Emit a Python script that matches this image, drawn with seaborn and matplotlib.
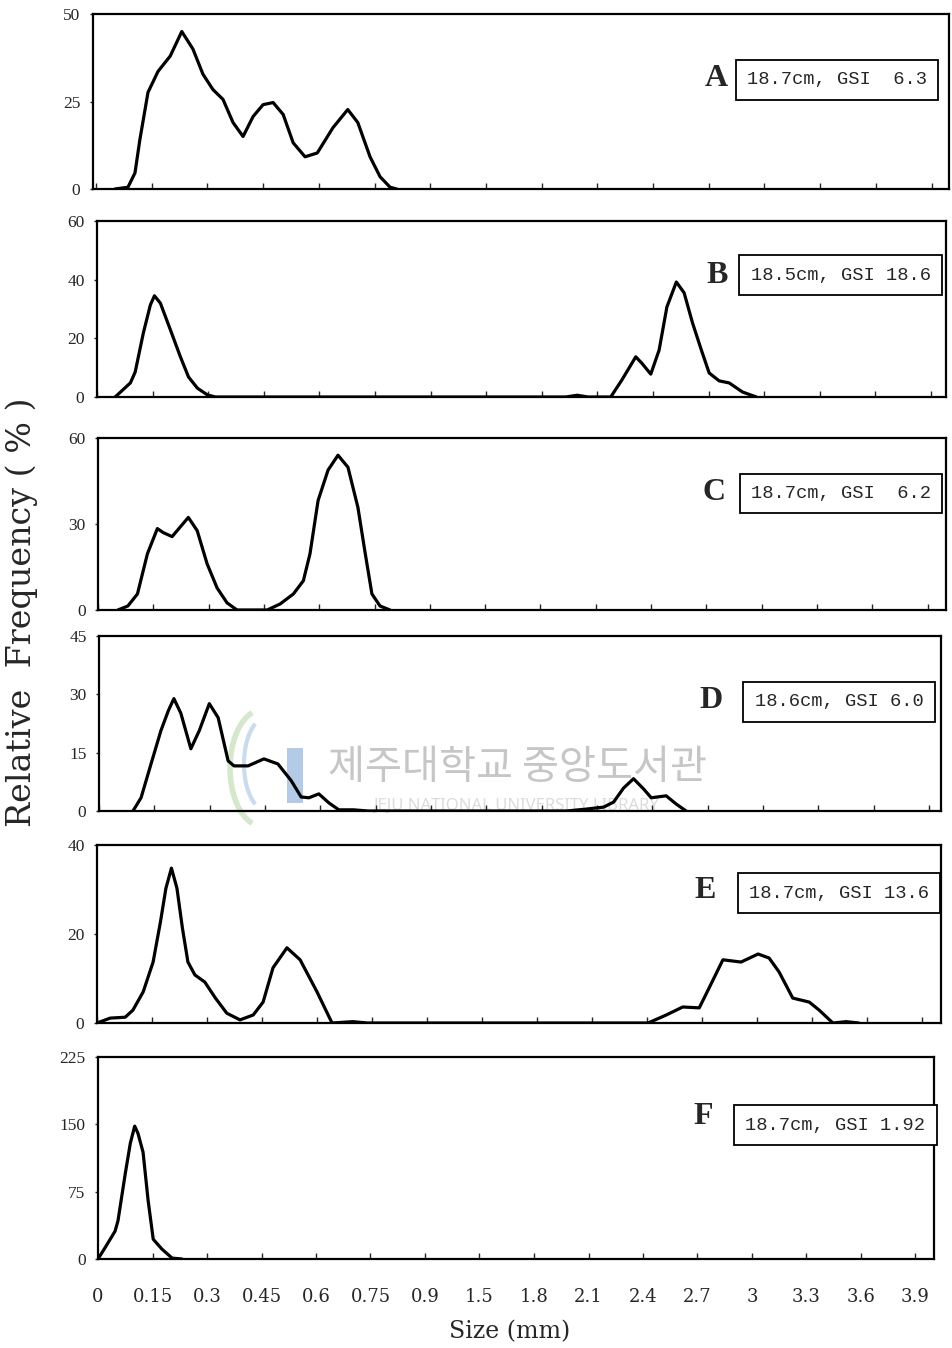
import numpy as np
import pandas as pd
import seaborn as sns
import matplotlib.pyplot as plt
from matplotlib.patches import Rectangle, Arc
from matplotlib.transforms import IdentityTransform

# x axis: size classes (mm), unequal steps drawn at equal spacing
tick_sizes = [0, 0.15, 0.3, 0.45, 0.6, 0.75, 0.9, 1.5, 1.8, 2.1, 2.4, 2.7, 3.0, 3.3, 3.6, 3.9]
tick_labels = ['0', '0.15', '0.3', '0.45', '0.6', '0.75', '0.9', '1.5', '1.8',
               '2.1', '2.4', '2.7', '3', '3.3', '3.6', '3.9']

panel_names = ['A', 'B', 'C', 'D', 'E', 'F']
panel_notes = ['18.7cm, GSI  6.3', '18.5cm, GSI 18.6', '18.7cm, GSI  6.2',
               '18.6cm, GSI 6.0', '18.7cm, GSI 13.6', '18.7cm, GSI 1.92']
y_ticks = [[0, 25, 50], [0, 20, 40, 60], [0, 30, 60], [0, 15, 30, 45], [0, 20, 40], [0, 75, 150, 225]]

# relative frequency (%)
A_size = [0.051, 0.086, 0.105, 0.118, 0.140, 0.167, 0.200, 0.231, 0.261, 0.288, 0.315, 0.342, 0.369,
          0.396, 0.423, 0.450, 0.477, 0.504, 0.531, 0.563, 0.596, 0.638, 0.678, 0.705, 0.738,
          0.765, 0.792, 0.810]
A_freq = [0, 0.5, 4.6, 14.0, 27.6, 33.6, 38.0, 45.0, 40.0, 32.8, 28.4, 25.6, 19.0,
          15.0, 20.7, 24.1, 24.7, 21.3, 13.2, 9.2, 10.3, 17.5, 22.7, 19.0, 9.2,
          3.5, 0.5, 0]

B_size = [0.049, 0.090, 0.103, 0.125, 0.144, 0.155, 0.171, 0.198, 0.225, 0.247, 0.271, 0.298, 0.320,
          1.930, 1.990, 2.050, 2.172, 2.232, 2.307, 2.340, 2.388, 2.433, 2.475, 2.526, 2.568,
          2.613, 2.661, 2.703, 2.757, 2.811, 2.883, 2.958]
B_freq = [0, 4.8, 8.5, 21.8, 31.4, 34.5, 32.0, 22.9, 13.7, 6.8, 3.0, 0.7, 0,
          0, 0.6, 0, 0, 5.8, 13.7, 11.5, 7.8, 16.0, 30.7, 39.2, 35.5,
          25.3, 16.0, 8.2, 5.5, 4.8, 1.7, 0]

C_size = [0.054, 0.081, 0.107, 0.134, 0.161, 0.177, 0.201, 0.222, 0.245, 0.269, 0.296, 0.323, 0.350,
          0.377, 0.459, 0.494, 0.530, 0.557, 0.575, 0.597, 0.624, 0.651, 0.678, 0.705, 0.725,
          0.743, 0.765, 0.792]
C_freq = [0, 1.4, 5.6, 19.6, 28.4, 27.0, 25.6, 28.8, 32.3, 27.7, 16.1, 7.7, 2.5,
          0, 0, 2.1, 5.6, 10.2, 19.6, 38.2, 48.8, 54.0, 49.8, 35.8, 19.6,
          5.6, 1.4, 0]

D_size = [0.092, 0.114, 0.141, 0.168, 0.188, 0.203, 0.222, 0.249, 0.272, 0.299, 0.323, 0.350,
          0.366, 0.404, 0.447, 0.485, 0.521, 0.548, 0.569, 0.596, 0.623, 0.650, 0.690, 0.729,
          1.935, 2.043, 2.136, 2.190, 2.244, 2.298, 2.352, 2.394, 2.475, 2.529, 2.583]
D_freq = [0, 3.4, 12.1, 20.7, 25.8, 28.9, 25.1, 16.0, 20.7, 27.6, 24.0, 12.9,
          11.6, 11.6, 13.4, 12.1, 7.8, 3.6, 3.4, 4.4, 2.1, 0.3, 0.3, 0,
          0, 0.5, 1.0, 2.3, 5.9, 8.3, 5.7, 3.4, 3.9, 1.8, 0]

E_size = [0, 0.036, 0.077, 0.098, 0.126, 0.153, 0.173, 0.188, 0.203, 0.218, 0.233, 0.248, 0.267,
          0.294, 0.323, 0.354, 0.390, 0.426, 0.453, 0.480, 0.518, 0.554, 0.600, 0.641, 0.698,
          0.737, 2.406, 2.505, 2.595, 2.685, 2.739, 2.814, 2.913, 3.006, 3.066, 3.120, 3.195,
          3.285, 3.339, 3.414, 3.486, 3.555]
E_freq = [0, 1.1, 1.3, 2.9, 7.0, 13.7, 22.7, 30.3, 34.8, 30.3, 21.3, 13.7, 10.8,
          9.2, 5.6, 2.2, 0.7, 1.8, 4.7, 12.4, 16.9, 14.2, 7.0, 0, 0.3,
          0, 0, 1.8, 3.6, 3.4, 7.9, 14.2, 13.7, 15.5, 14.6, 11.5, 5.6,
          4.7, 2.9, 0, 0.3, 0]

F_size = [0, 0.019, 0.047, 0.055, 0.075, 0.089, 0.101, 0.110, 0.124, 0.138, 0.152, 0.176, 0.204, 0.231]
F_freq = [0, 12.3, 31.0, 42.6, 95.0, 129.0, 148.0, 140.0, 119.0, 65.0, 22.0, 11.0, 1.0, 0]

curves = [(A_size, A_freq), (B_size, B_freq), (C_size, C_freq),
          (D_size, D_freq), (E_size, E_freq), (F_size, F_freq)]

# panel boxes in pixels: left, top, right, bottom, x of first tick, tick spacing
layout = [(93, 14, 949, 189, 96, 55.7),
          (97, 221, 946, 397, 97, 55.6),
          (98, 438, 946, 610, 98, 55.3),
          (99, 636, 941, 811, 98, 55.4),
          (97, 845, 941, 1023, 97, 55.0),
          (98, 1057, 934, 1259, 98, 54.5)]
letter_pos = [(0.728, 0.634), (0.730, 0.688), (0.726, 0.686), (0.727, 0.634), (0.720, 0.742), (0.724, 0.703)]
note_pos = [(0.869, 0.623), (0.876, 0.693), (0.876, 0.677), (0.879, 0.623), (0.879, 0.730), (0.882, 0.663)]


def fwd(x):
    x = np.asarray(x, dtype=float)
    return np.where(x <= 0.9, x / 0.15, np.where(x <= 1.5, 6 + (x - 0.9) / 0.6, 7 + (x - 1.5) / 0.3))


def inv(p):
    p = np.asarray(p, dtype=float)
    return np.where(p <= 6, p * 0.15, np.where(p <= 7, 0.9 + (p - 6) * 0.6, 1.5 + (p - 7) * 0.3))


sns.set_style('ticks')
plt.rcParams['font.family'] = ['DejaVu Serif']

W, H = 952, 1348
fig = plt.figure(figsize=(W / 100, H / 100), dpi=100)

for i, (xs, ys) in enumerate(curves):
    left, top, right, bottom, x0, dx = layout[i]
    ax = fig.add_axes([left / W, 1 - bottom / H, (right - left) / W, (bottom - top) / H])
    ax.patch.set_alpha(0)
    ax.set_xscale('function', functions=(fwd, inv))
    df = pd.DataFrame({'size': xs, 'freq': ys})
    sns.lineplot(data=df, x='size', y='freq', ax=ax, color='black', lw=2.3,
                 estimator=None, sort=False)
    ax.lines[-1].set_solid_joinstyle('round')
    ax.set_xlim(float(inv((left - x0) / dx)), float(inv((right - x0) / dx)))
    ax.set_ylim(0, y_ticks[i][-1])
    ax.set_xticks(tick_sizes)
    ax.xaxis.set_minor_locator(plt.NullLocator())
    ax.set_yticks(y_ticks[i])
    ax.set_yticklabels([str(v) for v in y_ticks[i]], family='Liberation Serif', fontsize=12.5)
    if i == 5:
        ax.set_xticklabels(tick_labels, fontsize=13)
    else:
        ax.set_xticklabels([])
    ax.tick_params(axis='x', direction='in', length=4, width=1, pad=21)
    ax.tick_params(axis='y', direction='out', length=2, width=1, pad=7)
    ax.set_xlabel('')
    ax.set_ylabel('')
    for s in ax.spines.values():
        s.set_linewidth(1.6)
        s.set_color('black')
    ax.text(*letter_pos[i], panel_names[i], transform=ax.transAxes, ha='center', va='center',
            family='Liberation Serif', fontweight='bold', fontsize=23)
    ax.text(*note_pos[i], panel_notes[i], transform=ax.transAxes, ha='center', va='center',
            family='Liberation Mono', fontsize=13.5,
            bbox=dict(boxstyle='square,pad=0.6', fc='white', ec='black', lw=1.3))

fig.text(22 / W, 1 - 612 / H, 'Relative  Frequency ( % )', rotation=90, ha='center', va='center',
         fontsize=24)
fig.text(510 / W, 1 - 1332 / H, 'Size (mm)', ha='center', va='center', fontsize=17)

# library watermark on the scan
fig.text(517 / W, 1 - 767 / H, '제주대학교 중앙도서관', ha='center', va='center', fontsize=29,
         family=['Noto Sans CJK KR', 'DejaVu Sans'], color='#c6c6c6', zorder=-1)
fig.text(516 / W, 1 - 806 / H, 'JEJU NATIONAL UNIVERSITY LIBRARY', ha='center', va='center',
         fontsize=12, family='Noto Sans', color='#dcdcdc', zorder=-1)
fig.add_artist(Rectangle((287, H - 803), 16, 55, transform=IdentityTransform(),
                         fc='#b4cbe8', ec='none', zorder=-1))
fig.add_artist(Arc((262, H - 768), 64, 116, theta1=100, theta2=260, transform=IdentityTransform(),
                   color='#d6e8cc', lw=4, zorder=-1))
fig.add_artist(Arc((266, H - 764), 44, 92, theta1=105, theta2=255, transform=IdentityTransform(),
                   color='#c9dbef', lw=3, zorder=-1))

plt.savefig('out.png', dpi=100)
